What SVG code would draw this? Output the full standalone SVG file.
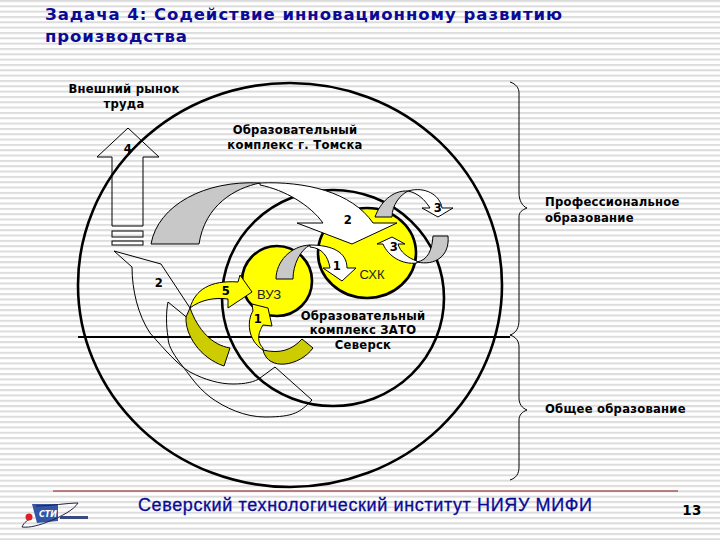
<svg xmlns="http://www.w3.org/2000/svg" width="720" height="540" viewBox="0 0 720 540">
<style>
.t{font-family:"DejaVu Sans","Liberation Sans",sans-serif;font-weight:bold;font-size:11.6px;letter-spacing:.25px;fill:#000}
.c{text-anchor:middle}
.r{font-family:"Liberation Sans",sans-serif;font-size:13px;fill:#222;text-anchor:middle}
.h{font-family:"DejaVu Sans",sans-serif;font-weight:bold;font-size:16.5px;fill:#0a0a96}
.ln{fill:none;stroke:#000;stroke-width:1}
.big{fill:none;stroke:#000;stroke-width:2.6}
.y{fill:#ffff00;stroke:#000;stroke-width:1}
.yc{fill:#ffff00;stroke:#000;stroke-width:2.6}
.w{fill:#fff;stroke:#000;stroke-width:1}
.g{fill:#c8c8c8;stroke:#000;stroke-width:1}
.o{fill:#cccc00;stroke:#000;stroke-width:1}
</style>
<defs>
<pattern id="st" width="10" height="5.33" patternUnits="userSpaceOnUse"><rect width="10" height="5.33" fill="#fff"/><rect width="10" height="2" fill="#dcdcdc"/></pattern>
</defs>
<rect width="720" height="540" fill="url(#st)"/>
<g id="title">
<text class="h" x="45" y="20" textLength="517" lengthAdjust="spacing">Задача 4: Содействие инновационному развитию</text>
<text class="h" x="45" y="42" textLength="142" lengthAdjust="spacing">производства</text>
</g>
<g id="circles">
<ellipse id="outer" class="big" cx="290" cy="285" rx="212" ry="202"/>
<ellipse id="inner" class="big" cx="333" cy="298" rx="111" ry="108"/>
<line x1="78" y1="337" x2="510" y2="337" stroke="#000" stroke-width="2"/>
</g>
<g id="node-vuz"><ellipse class="yc" cx="277" cy="281" rx="35" ry="35"/><text class="r" x="269" y="299">ВУЗ</text></g>
<g id="node-shk"><ellipse class="yc" cx="367" cy="253" rx="49" ry="45"/><text class="r" x="372" y="279">СХК</text></g>
<g id="connectors">
<path id="up4" class="ln" d="M128 128L97 157H112V226H143V157H159Z"/>
<rect class="ln" x="112" y="231" width="31" height="6"/><rect class="ln" x="112" y="241" width="31" height="4"/>
<path id="low2" class="ln" d="M114 251L132 267C132 290 138 315 150 333C165 350 178 365 190 372C205 380 220 384 233 384C245 384 255 382 260 378L275 367L312 400C300 412 295 417 265 417C245 417 225 408 210 397C195 385 190 375 180 363C172 352 168 345 168 337C166 325 166 312 168 302L190 320M114 251L161 264L190 308"/>
<path class="w" d="M260 183C305 181 352 192 373 223H397L352 244L297 223H323C310 205 285 190 260 185Z"/>
<path class="g" d="M151 244C158 205 205 180 260 183C235 188 205 205 199 244Z"/>
<path class="w" d="M408 191C425 186 440 195 442 208H453L438 217L422 208H430C425 200 418 193 408 191Z"/>
<path class="g" d="M375 217C380 203 392 190 408 191C400 195 392 205 392 217Z"/>
<path class="w" d="M417 261C408 258 400 252 398 244H405L392 237L377 244H383C388 256 402 265 417 263Z"/>
<path class="g" d="M417 262C428 260 432 250 433 236H448C450 256 435 266 417 262Z"/>
<path class="w" d="M310 245C332 245 347 252 347 268H356L342 281L323 268H330C328 256 322 248 310 247Z"/>
<path class="g" d="M276 279C276 262 290 246 310 245C300 250 293 265 293 279Z"/>
<path class="y" d="M190 308C195 290 210 280 238 282L240 275L252 292L228 308L228 299C215 297 200 300 190 308Z"/>
<path class="o" d="M190 308L186 317C185 335 200 358 224 366L230 348C212 345 198 330 190 308Z"/>
<path class="y" d="M263 348C255 340 260 330 263 325L272 326L268 308L252 304L253 311C247 320 247 340 263 350Z"/>
<path class="o" d="M263 350C280 354 292 350 302 339L313 348C300 366 268 372 263 350Z"/>
</g>
<g id="labels">
<text class="t c" x="124" y="93">Внешний рынок</text>
<text class="t c" x="124" y="108">труда</text>
<text class="t c" x="295" y="134">Образовательный</text>
<text class="t c" x="295" y="149">комплекс г. Томска</text>
<text class="t c" x="128" y="153">4</text>
<text class="t c" x="348" y="224">2</text>
<text class="t c" x="438" y="212">3</text>
<text class="t c" x="394" y="251">3</text>
<text class="t c" x="337" y="270">1</text>
<text class="t c" x="159" y="287">2</text>
<text class="t c" x="226" y="295">5</text>
<text class="t c" x="258" y="323">1</text>
<text class="t c" x="363" y="320">Образовательный</text>
<text class="t c" x="363" y="334">комплекс ЗАТО</text>
<text class="t c" x="363" y="349">Северск</text>
<text class="t" x="545" y="206">Профессиональное</text>
<text class="t" x="545" y="222">образование</text>
<text class="t" x="545" y="413">Общее образование</text>
</g>
<g id="braces">
<path class="ln" d="M510 82C516 84 519 88 519 93V193C519 200 522 206 527 208C522 210 519 212 519 217V320C519 328 516 333 510 335C516 337 519 341 519 347V398C519 404 522 408 527 410C522 412 519 415 519 420V467C519 474 516 478 510 480"/>
</g>
<g id="footer">
<line x1="53" y1="491" x2="678" y2="491" stroke="#8b1a1a" stroke-width="1"/>
<text x="138" y="511" textLength="454" font-family="Liberation Sans, sans-serif" font-size="18" fill="#0a0a96" stroke="#0a0a96" stroke-width=".3">Северский технологический институт НИЯУ МИФИ</text>
<text x="692" y="515" class="t c" style="font-size:13.5px">13</text>
<path d="M32 504L58 504L58 521L37 523Z" fill="#3355a5"/>
<path d="M36 506C50 506 68 503 78 503C74 510 60 517 50 521C40 525 30 528 22 527C24 522 28 520 32 518" stroke="#224" fill="none"/>
<circle cx="29" cy="517" r="3.5" fill="#e02020"/>
<rect x="60" y="516" width="28" height="3" fill="#3a4a80"/>
<text x="39" y="517" font-family="DejaVu Sans, sans-serif" font-weight="bold" font-style="italic" font-size="8" fill="#fff">СТИ</text>
</g>
</svg>
